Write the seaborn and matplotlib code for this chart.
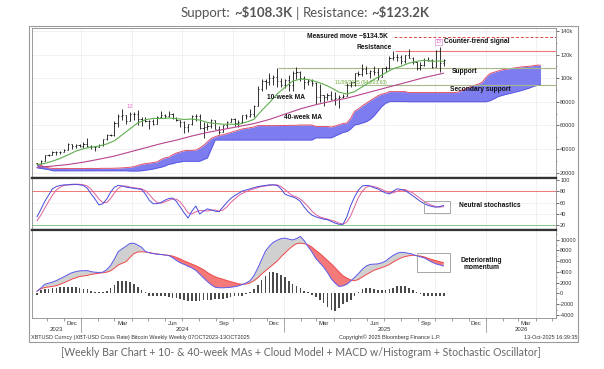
import numpy as np
import pandas as pd
import matplotlib
matplotlib.use("Agg")
import matplotlib.pyplot as plt
import matplotlib.dates as mdates
from matplotlib.patches import Rectangle
from matplotlib.lines import Line2D
import seaborn as sns

# ---------------- data (prices in $ thousands, weekly bars) ----------------
first_week = "2023-10-13"

bar_open = [27.9, 26.9, 29.9, 34.5, 35.0, 37.1, 37.4, 37.8, 39.5, 43.8, 42.3, 43.7,
            42.1, 43.9, 42.8, 41.6, 42.0, 43.0, 48.3, 52.1, 51.7, 62.0, 68.3, 68.4, 64.0,
            69.7, 69.4, 65.7, 64.9, 63.4, 63.9, 61.5, 66.9, 68.5, 67.8, 69.6, 66.6, 64.3,
            62.7, 58.2, 60.8, 68.2, 68.2, 58.1, 58.7, 59.5, 64.2, 57.3, 54.8, 60.0, 63.2,
            65.8, 62.1, 62.8, 68.4, 68.3, 69.4, 76.5, 90.6, 98.0, 96.4, 99.9, 101.4, 97.3,
            94.2, 98.1, 94.5, 104.5, 104.8, 100.4, 96.5, 97.6, 96.1, 84.4, 86.1, 84.0,
            86.1, 82.4, 83.5, 83.8, 85.1, 94.6, 96.5, 104.1, 103.3, 107.8, 104.6, 105.7,
            105.5, 101.0, 108.4, 108.2, 117.5, 117.9, 117.6, 114.2, 119.3, 117.4, 113.5,
            108.2, 111.1, 115.3, 115.7, 109.6, 122.9, 112.5]
bar_high = [28.0, 30.4, 35.2, 35.9, 37.9, 37.9, 38.4, 40.2, 44.7, 44.0, 44.3, 43.8,
            45.9, 49.0, 43.2, 42.8, 43.9, 48.6, 52.9, 52.9, 64.0, 69.3, 73.8, 68.9, 71.7,
            71.3, 72.8, 66.9, 67.1, 64.7, 65.5, 67.7, 71.9, 70.0, 71.9, 70.2, 66.9, 64.5,
            63.8, 61.5, 68.5, 69.4, 70.0, 62.7, 61.6, 65.0, 64.9, 59.8, 60.6, 64.1, 66.5,
            66.0, 64.4, 69.0, 69.5, 73.6, 77.2, 93.5, 99.6, 98.9, 104.1, 102.5, 108.3, 99.9,
            98.9, 102.7, 106.0, 109.6, 106.4, 101.5, 98.9, 99.5, 96.5, 95.0, 86.1, 87.4,
            88.8, 88.5, 85.8, 86.4, 95.7, 97.9, 104.3, 105.8, 111.9, 110.7, 106.8, 110.4,
            108.9, 108.5, 110.5, 118.9, 123.2, 120.2, 119.8, 119.3, 124.5, 117.6, 113.6,
            113.4, 116.7, 117.9, 115.9, 123.9, 126.2, 115.9]
bar_low = [26.6, 26.9, 29.9, 33.9, 34.5, 34.8, 35.7, 37.2, 39.5, 40.2, 40.5, 41.5,
           40.8, 41.5, 40.3, 38.5, 41.8, 42.3, 47.7, 50.6, 50.9, 59.0, 64.5, 60.8, 64.0,
           64.5, 60.7, 59.6, 62.8, 56.5, 60.2, 60.8, 66.3, 66.6, 67.5, 65.1, 63.4, 58.4,
           53.5, 54.3, 60.0, 63.4, 57.1, 49.1, 56.1, 58.0, 57.2, 52.6, 54.6, 57.6, 62.7,
           59.8, 58.9, 62.0, 65.0, 67.5, 66.8, 76.5, 89.4, 90.8, 94.0, 94.3, 92.2, 92.5,
           91.3, 89.3, 89.3, 99.5, 97.8, 91.2, 94.1, 93.4, 78.2, 80.1, 76.6, 81.2,
           81.6, 77.1, 74.5, 83.1, 85.1, 92.9, 93.4, 101.5, 102.1, 103.1, 100.4, 102.7,
           98.2, 100.8, 105.2, 107.5, 115.7, 114.7, 112.0, 112.7, 116.8, 111.7, 107.3,
           107.3, 110.6, 114.5, 108.7, 109.3, 104.8, 110.0]
bar_close = [26.9, 29.9, 34.5, 35.0, 37.1, 37.4, 37.8, 39.5, 43.8, 42.3, 43.7, 42.1,
             43.9, 42.8, 41.6, 42.0, 43.0, 48.3, 52.1, 51.7, 62.0, 68.3, 68.4, 64.0, 69.7,
             69.4, 65.7, 64.9, 63.4, 63.9, 61.5, 66.9, 68.5, 67.8, 69.6, 66.6, 64.3, 62.7,
             58.2, 60.8, 68.2, 68.2, 58.1, 58.7, 59.5, 64.2, 57.3, 54.8, 60.0, 63.2, 65.8,
             62.1, 62.8, 68.4, 68.3, 69.4, 76.5, 90.6, 98.0, 96.4, 99.9, 101.4, 97.3, 94.2,
             98.1, 94.5, 104.5, 104.8, 100.4, 96.5, 97.6, 96.1, 84.4, 86.1, 84.0, 86.1,
             82.4, 83.5, 83.8, 85.1, 94.6, 96.5, 104.1, 103.3, 107.8, 104.6, 105.7, 105.5,
             101.0, 108.4, 108.2, 117.5, 117.9, 117.6, 114.2, 119.3, 117.4, 113.5, 108.2,
             111.1, 115.3, 115.7, 109.6, 122.9, 112.5, 115.0]

# 10-week and 40-week moving averages (week number -> value, $k)
ma10_week = [0, 2, 4, 6, 8, 10, 12, 14, 16, 18, 20, 22, 24, 26, 28, 30, 32, 34, 36, 38,
             40, 42, 44, 46, 48, 50, 52, 54, 56, 58, 60, 62, 64, 66, 68, 70, 72, 74, 76,
             78, 80, 82, 84, 86, 88, 90, 92, 94, 96, 98, 100, 102, 104, 105]
ma10 = [26.8, 27.7, 29.7, 32.0, 35.0, 38.1, 40.3, 41.5, 42.5, 44.2, 47.0, 52.0, 57.0,
        62.0, 64.8, 65.9, 65.8, 66.2, 65.7, 65.0, 65.4, 64.5, 62.5, 61.6, 61.0, 61.0,
        60.8, 62.7, 65.1, 72.5, 79.2, 86.6, 92.2, 97.5, 99.2, 98.9, 97.1, 94.9, 91.8,
        88.1, 86.6, 88.6, 92.7, 96.9, 100.8, 104.5, 108.0, 110.1, 112.7, 114.2, 115.2,
        114.2, 114.6, 114.1]
ma40_week = [0, 4, 8, 12, 16, 20, 24, 28, 32, 36, 40, 44, 48, 52, 56, 60, 64, 68, 72,
             76, 80, 84, 88, 92, 96, 100, 104, 105]
ma40 = [24.5, 25.5, 26.8, 28.8, 31.3, 34.0, 37.5, 41.0, 44.5, 47.5, 51.0, 54.0, 56.5,
        59.0, 61.5, 65.0, 69.5, 74.0, 77.5, 80.5, 83.0, 86.5, 90.0, 93.5, 97.0, 100.5,
        103.5, 104.2]

# cloud model (weekly, projected ahead), $k
cloud_top = [27.5, 26.0, 25.0, 24.0,
             23.5, 23.5, 23.5, 23.5, 23.4, 23.4, 23.4, 23.4, 23.4, 23.5, 23.5, 23.5, 23.5,
             23.6, 23.6, 23.6, 23.7, 23.8, 24.0, 24.2,
             24.5, 25.0, 26.0, 27.0, 27.5, 28.0, 28.5, 29.0, 31.0, 32.4, 33.0, 35.0, 36.6,
             37.5, 38.5, 38.8, 38.8, 39.0, 40.8, 43.0, 46.0, 49.0,
             50.4, 51.5, 52.0, 53.0, 54.0, 55.0, 56.0, 57.0, 57.5, 58.0, 58.6,
             59.8, 59.8, 59.8, 59.8, 59.8, 59.8, 59.9, 59.9, 60.0, 60.0, 60.1,
             60.3, 60.3, 60.3, 60.3, 59.0, 59.0, 59.0, 59.0,
             58.6, 59.5, 60.5, 61.6, 62.0, 66.0, 72.0, 74.0, 76.5, 78.7, 81.0, 83.0, 85.0,
             86.5, 87.2,
             88.6, 88.6, 88.6, 88.6, 88.6,
             87.8, 87.8, 87.8, 87.8, 87.8, 87.8, 87.8, 87.8, 87.8, 87.8, 87.8, 87.8, 87.8,
             88.5, 90.0, 91.5, 93.0, 94.0, 95.0, 96.8, 101.0, 104.0, 105.0, 106.0, 107.0,
             107.5, 108.0, 108.5, 109.0, 109.5, 109.8, 110.0, 110.5, 111.0, 111.0]
cloud_bottom = [24.0, 23.5, 23.0, 22.5,
                21.5, 21.5, 21.5, 21.5, 21.5, 21.5, 21.5, 21.5, 21.5, 21.5, 21.5, 21.5,
                21.5, 21.5, 21.5, 21.5, 21.5, 21.5, 21.5, 21.5,
                21.3, 21.3, 21.3, 21.5, 22.0, 22.5, 23.0, 23.8, 24.5, 25.5, 27.0, 27.5,
                28.5, 29.0, 29.6, 29.6, 29.6, 29.6, 29.6, 31.0, 32.4, 40.0,
                47.6, 47.6, 47.6, 47.6, 47.6, 47.6, 47.6, 47.6, 47.6, 47.6, 47.6,
                47.6, 47.6, 47.6, 47.6, 47.6, 47.6, 47.6, 47.6, 47.6, 47.6, 47.6,
                47.6, 47.6, 47.6, 47.6, 49.4, 49.4, 49.4, 49.4,
                49.4, 51.0, 52.5, 54.0, 54.7, 57.0, 60.3, 61.0, 62.0, 63.1, 65.0, 68.0,
                72.0, 76.0, 78.7,
                80.1, 80.1, 80.1, 80.1, 80.1,
                80.0, 80.0, 80.0, 80.0, 80.0, 80.0, 80.0, 80.0, 80.0, 80.0, 80.0, 80.0, 80.0,
                80.0, 80.0, 80.0, 80.0, 80.0, 80.0, 80.0, 80.0, 81.0, 82.5, 84.3, 85.3,
                86.2, 87.0, 87.8, 88.6, 89.5, 90.5, 91.5, 92.8, 93.8, 94.8]

# stochastic oscillator (weekly)
stoch_k = [35, 48, 62, 73, 84, 88, 90, 91, 91, 92, 92, 91, 90, 85, 75, 66, 56, 58, 66, 78,
           87, 90, 89, 87, 86, 85, 84, 83, 75, 64, 58, 58, 60, 64, 67, 68, 62, 52, 42, 33,
           45, 54, 40, 45, 49, 47, 45, 44, 52, 60, 67, 72, 76, 80, 82, 84, 86, 88, 89, 90,
           91, 91, 90, 84, 75, 72, 70, 67, 62, 52, 44, 38, 35, 33, 31, 30, 27, 24, 22, 22,
           35, 55, 70, 82, 89, 90, 89, 86, 84, 80, 77, 75, 80, 84, 83, 81, 77, 72, 67, 62,
           58, 55, 53, 52, 53, 55]
stoch_d = [28, 38, 50, 62, 73, 82, 87, 90, 91, 91, 92, 92, 91, 89, 83, 75, 66, 60, 60, 67,
           77, 85, 89, 89, 87, 86, 85, 84, 81, 74, 66, 60, 59, 61, 64, 66, 66, 61, 52, 42,
           40, 44, 46, 46, 45, 47, 47, 45, 47, 52, 60, 66, 72, 76, 79, 82, 84, 86, 88, 89,
           90, 91, 91, 88, 83, 77, 72, 70, 66, 60, 53, 45, 39, 35, 33, 31, 29, 27, 24, 22,
           26, 37, 53, 69, 80, 87, 89, 88, 86, 83, 80, 77, 77, 80, 82, 83, 80, 77, 72, 67,
           62, 58, 55, 53, 52, 53]

# MACD (weekly)
macd_line = [400, 1000, 1700, 1900, 2100, 2400, 2750, 3100, 3500, 3850,
             4050, 4200, 4230, 4250, 4050, 3950, 3900, 3950, 4400, 5200,
             6400, 7800, 8300, 8800, 9300, 9350, 9000, 8600, 7800, 7550,
             7400, 7300, 7250, 7150, 7050, 6650, 6150, 5700, 5400, 5050,
             4750, 4300, 3600, 2900, 2200, 1600, 1150, 1050, 1050, 1080,
             1150, 1250, 1400, 1650, 1950, 2350, 3300, 4700, 6300, 7900,
             8800, 9500, 9900, 10200, 10300, 10100, 9950, 10200, 10600, 9800,
             8700, 7700, 6500, 5700, 4900, 3900, 2700, 1900, 1300, 1400,
             1700, 2300, 3000, 3700, 4500, 5100, 5400, 5450, 5500, 5700,
             6000, 6600, 7100, 7500, 7650, 7600, 7450, 7300, 7000, 6800,
             6600, 6200, 5800, 5500, 5300, 5100]
macd_signal = [400, 850, 1100, 1200, 1300, 1450, 1700, 2000, 2300, 2650,
               2900, 3150, 3250, 3350, 3550, 3650, 3750, 3850, 3950, 4200,
               4700, 5300, 5600, 5900, 6700, 7400, 7700, 7750, 7700, 7600,
               7450, 7350, 7250, 7150, 7100, 6950, 6700, 6400, 6050, 5750,
               5450, 5150, 4800, 4400, 3900, 3450, 3100, 2850, 2650, 2400,
               2200, 2000, 1800, 1700, 1750, 1950, 2350, 2900, 3600, 4200,
               4800, 5400, 6000, 6800, 7500, 8200, 8800, 9250, 9350, 9250,
               9050, 8600, 8000, 7450, 6800, 6150, 5500, 4750, 4000, 3300,
               2850, 2500, 2350, 2600, 3050, 3500, 3900, 4300, 4550, 4800,
               5050, 5400, 5850, 6250, 6600, 6850, 7000, 7100, 7050, 6950,
               6800, 6500, 6300, 6100, 5900, 5700]
macd_hist = [-200, 700, 800, 900, 1000, 1100, 1150, 1200, 1250, 1200, 1150, 1000, 900, 800,
             500, 300, 250, 300, 450, 1000, 1600, 2300, 2400, 2400, 2200, 1800, 1200, 700,
             250, -400, -500, -500, -500, -550, -600, -800, -850, -1000, -1300, -1450,
             -1500, -1500, -1400, -1300, -1250, -1200, -1100, -1000, -950, -800, -600, -550,
             -500, -400, -100, 300, 900, 1500, 2500, 3300, 3900, 3900, 3800, 3400, 3000,
             2300, 1700, 1400, 1100, 500, 300, -200, -600, -1300, -1800, -2500, -3100,
             -3300, -2800, -2000, -1600, -1200, -500, 200, 800, 1100, 1100, 800, 600, 600,
             600, 900, 1000, 1300, 1400, 1300, 1000, 700, 200, -100, -400, -450, -500, -500,
             -550, -500]

# key levels ($k)
measured_move = 134.5
resistance = 123.2
support = 108.3
secondary_support = 94.2

price_ticks = [20, 40, 60, 80, 100, 120, 140]
price_labels = ["20000", "40000", "60000", "80000", "100k", "120k", "140k"]
stoch_ticks = [20, 40, 60, 80, 100]
macd_ticks = [-4000, -2000, 0, 2000, 4000, 6000, 8000, 10000]
month_tick_dates = ["2023-12-15", "2024-03-15", "2024-06-15", "2024-09-15", "2024-12-15",
                    "2025-03-15", "2025-06-15", "2025-09-15", "2025-12-15", "2026-03-15"]
month_tick_labels = ["Dec", "Mar", "Jun", "Sep", "Dec", "Mar", "Jun", "Sep", "Dec", "Mar"]
years = ["2023", "2024", "2025", "2026"]

# ---------------- figure setup ----------------
sns.set_theme(style="white")
plt.rcParams["font.family"] = ["Liberation Sans", "DejaVu Sans"]
plt.rcParams["axes.linewidth"] = 0.6

W, H, DPI = 604, 369, 100
fig = plt.figure(figsize=(W / DPI, H / DPI), dpi=DPI)
fig.patch.set_facecolor("white")

XMIN = pd.Timestamp("2023-10-04")
XMAX = pd.Timestamp("2026-05-08")
X0, X1 = 32, 556


def px_axes(x0, y0, x1, y1):
    return fig.add_axes([x0 / W, 1 - y1 / H, (x1 - x0) / W, (y1 - y0) / H])


def fx(px):
    return px / W


def fy(py):
    return 1 - py / H


def date_px(d):
    d = pd.Timestamp(d)
    return X0 + (d - XMIN).days * (X1 - X0) / (XMAX - XMIN).days


def dn(d):
    return mdates.date2num(pd.Timestamp(d))


ax1 = px_axes(32, 28, 556, 178)
ax2 = px_axes(32, 178, 556, 230)
ax3 = px_axes(32, 230, 556, 318)

# outer Bloomberg frame
fig.add_artist(Rectangle((fx(29), fy(342)), (578 - 29) / W, (342 - 26) / H,
                         transform=fig.transFigure, fill=False, ec="#9a9a9a", lw=0.8))

bar_dates = pd.date_range(first_week, periods=len(bar_close), freq="7D")
bd = mdates.date2num(bar_dates)
cloud_dates = pd.date_range(first_week, periods=len(cloud_top), freq="7D")
cd = mdates.date2num(cloud_dates)

grid_dates = [dn(d) for d in ["2024-01-01", "2024-04-01", "2024-07-01", "2024-10-01",
                              "2025-01-01", "2025-04-01", "2025-07-01", "2025-10-01",
                              "2026-01-01", "2026-04-01"]]

for ax in (ax1, ax2, ax3):
    ax.set_facecolor("white")
    ax.set_xlim(dn(XMIN), dn(XMAX))
    for g in grid_dates:
        ax.axvline(g, color="#ebebeb", lw=0.5, zorder=0)
    ax.yaxis.tick_right()
    ax.tick_params(axis="y", which="major", labelsize=4, length=2, width=0.5, pad=1,
                   colors="#333333", direction="out", right=True, left=False)
    ax.tick_params(axis="y", which="minor", length=1, width=0.4, colors="#333333",
                   right=True, left=False)
    for s in ax.spines.values():
        s.set_color("#8a8a8a")
        s.set_linewidth(0.6)

# ---------------- main panel ----------------
for p in price_ticks:
    ax1.axhline(p, color="#ebebeb", lw=0.5, zorder=0)

ax1.fill_between(cd, cloud_bottom, cloud_top, color="#7d7df0", lw=0, zorder=2)
sns.lineplot(x=cloud_dates, y=cloud_top, ax=ax1, color="#e0506a", lw=0.7,
             estimator=None, legend=False, zorder=3)
sns.lineplot(x=cloud_dates, y=cloud_bottom, ax=ax1, color="#5050e0", lw=0.5,
             estimator=None, legend=False, zorder=3)

tick_len = 2.0
ax1.vlines(bd, bar_low, bar_high, color="#111111", lw=0.6, zorder=5)
ax1.hlines(bar_open, bd - tick_len, bd, color="#111111", lw=0.6, zorder=5)
ax1.hlines(bar_close, bd, bd + tick_len, color="#111111", lw=0.6, zorder=5)

sns.lineplot(x=bar_dates[ma10_week], y=ma10, ax=ax1, color="#5fae4f", lw=0.8,
             estimator=None, legend=False, zorder=6)
sns.lineplot(x=bar_dates[ma40_week], y=ma40, ax=ax1, color="#b8448e", lw=0.8,
             estimator=None, legend=False, zorder=6)

xr = dn(XMAX)
ax1.hlines(measured_move, dn("2025-07-19"), xr, colors="#e04848", linestyles=(0, (3, 2)),
           lw=0.7, zorder=4)
ax1.hlines(resistance, dn("2025-07-21"), xr, colors="#f07878", lw=0.8, zorder=4)
ax1.hlines(support, dn("2024-12-21"), xr, colors="#a6b88a", lw=0.8, zorder=4)
ax1.hlines(secondary_support, dn("2025-04-20"), xr, colors="#a6b88a", lw=0.8, zorder=4)

ann = dict(fontsize=4.8, fontweight="bold", color="#111111", zorder=8)
ax1.text(dn("2025-02-12"), 135.3, "Measured move ~\\$134.5K", ha="left", va="center", **ann)
ax1.text(dn("2025-07-16"), 125.6, "Resistance", ha="right", va="center", **ann)
ax1.text(dn("2025-11-24"), 105.3, "Support", ha="center", va="center", **ann)
ax1.text(dn("2025-12-22"), 90.8, "Secondary support", ha="center", va="center", **ann)
ax1.text(dn("2025-10-18"), 131.0, "Counter-trend signal", ha="left", va="center", **ann)
ax1.text(dn("2025-01-05"), 84.0, "10-week MA", ha="center", va="center", **ann)
ax1.text(dn("2025-02-05"), 66.3, "40-week MA", ha="center", va="center", **ann)
ax1.text(dn("2025-10-08"), 130.7, "13", ha="center", va="center", fontsize=3.8,
         color="#e060c8", zorder=9,
         bbox=dict(boxstyle="square,pad=0.15", fc="white", ec="#e090d8", lw=0.5))
ax1.text(dn("2024-03-29"), 75.6, "12", ha="center", va="center", fontsize=4.2,
         color="#f070d0", zorder=9)
ax1.text(dn("2025-05-20"), 96.3, "11/09/2025 (94,203.63)", ha="center", va="center",
         fontsize=3.6, color="#6aaa3a", zorder=9)

ax1.set_ylim(15.4, 142.5)
ax1.set_yticks(price_ticks)
ax1.set_yticklabels(price_labels)
ax1.set_yticks([30, 50, 70, 90, 110, 130], minor=True)
ax1.set_xticks([])
ax1.set_xlabel("")
ax1.set_ylabel("")
ax1.spines["bottom"].set_color("#333333")
ax1.spines["bottom"].set_linewidth(1.6)

# ---------------- stochastic panel ----------------
for v in (40, 60):
    ax2.axhline(v, color="#ededed", lw=0.5, zorder=0)
ax2.axhline(80, color="#f07878", lw=0.7, zorder=1)
ax2.axhline(20, color="#88c888", lw=0.7, zorder=1)
sns.lineplot(x=bar_dates, y=stoch_d, ax=ax2, color="#e0609a", lw=0.7,
             estimator=None, legend=False, zorder=3)
sns.lineplot(x=bar_dates, y=stoch_k, ax=ax2, color="#4848dc", lw=0.7,
             estimator=None, legend=False, zorder=4)
ax2.add_patch(Rectangle((dn("2025-09-12"), 41.8), dn("2025-10-29") - dn("2025-09-12"), 20.2,
                        fill=False, ec="#9a9a9a", lw=0.6, zorder=5))
ax2.text(dn("2026-01-09"), 54.8, "Neutral stochastics", ha="center", va="center", **ann)
ax2.set_ylim(12, 103)
ax2.set_yticks(stoch_ticks)
ax2.set_yticklabels([str(t) for t in stoch_ticks])
ax2.set_xticks([])
ax2.set_xlabel("")
ax2.set_ylabel("")
for s in ("top", "bottom"):
    ax2.spines[s].set_color("#333333")
    ax2.spines[s].set_linewidth(1.6)

# ---------------- MACD panel ----------------
ml = np.array(macd_line, dtype=float)
sl = np.array(macd_signal, dtype=float)
ax3.fill_between(bd, ml, sl, where=ml >= sl, interpolate=True, color="#d0d0d0", lw=0,
                 zorder=2)
ax3.fill_between(bd, ml, sl, where=ml < sl, interpolate=True, color="#f47a7a", lw=0,
                 zorder=2)
ax3.bar(bd, macd_hist, width=3.0, color="#4a4a4a", lw=0, zorder=3)
sns.lineplot(x=bar_dates, y=macd_signal, ax=ax3, color="#f04848", lw=0.7,
             estimator=None, legend=False, zorder=4)
sns.lineplot(x=bar_dates, y=macd_line, ax=ax3, color="#5a5af0", lw=0.7,
             estimator=None, legend=False, zorder=5)
ax3.add_patch(Rectangle((dn("2025-08-29"), 4000), dn("2025-10-29") - dn("2025-08-29"), 3430,
                        fill=False, ec="#9a9a9a", lw=0.6, zorder=6))
ax3.text(dn("2025-12-24"), 6100, "Deteriorating", ha="center", va="center", **ann)
ax3.text(dn("2025-12-24"), 4760, "momentum", ha="center", va="center", **ann)
ax3.set_ylim(-4570, 11800)
ax3.set_yticks(macd_ticks)
ax3.set_yticklabels([str(t) for t in macd_ticks])
ax3.set_yticks([-3000, -1000, 1000, 3000, 5000, 7000, 9000, 11000], minor=True)
ax3.set_xticks([dn(d) for d in month_tick_dates])
ax3.set_xticklabels(month_tick_labels)
ax3.xaxis.set_minor_locator(mdates.MonthLocator())
ax3.tick_params(axis="x", which="major", labelsize=4.3, length=0, pad=2.5, colors="#333333",
                bottom=True)
ax3.tick_params(axis="x", which="minor", length=1.8, width=0.4, colors="#555555",
                bottom=True)
ax3.set_xlabel("")
ax3.set_ylabel("")
ax3.spines["top"].set_color("#333333")
ax3.spines["top"].set_linewidth(1.6)
ax3.set_xlim(dn(XMIN), dn(XMAX))

# year labels and separators
year_bounds = [XMIN, pd.Timestamp("2024-01-01"), pd.Timestamp("2025-01-01"),
               pd.Timestamp("2026-01-01"), XMAX]
for k, y in enumerate(years):
    cx = (date_px(year_bounds[k]) + date_px(year_bounds[k + 1])) / 2
    fig.text(fx(cx), fy(329.5), y, ha="center", va="center", fontsize=4.3, color="#333333")
for b in year_bounds[1:4]:
    xp = date_px(b)
    fig.add_artist(Line2D([fx(xp), fx(xp)], [fy(319), fy(332)], transform=fig.transFigure,
                          color="#9a9a9a", lw=0.6))

# footer
foot = dict(fontsize=4.0, color="#333333", va="center")
fig.text(fx(31), fy(337.5), "XBTUSD Curncy (XBT-USD Cross Rate) Bitcoin Weekly Weekly 07OCT2023-13OCT2025",
         ha="left", **foot)
fig.text(fx(390), fy(337.5), "Copyright\u00a9 2025 Bloomberg Finance L.P.", ha="center", **foot)
fig.text(fx(577), fy(337.5), "13-Oct-2025 16:39:35", ha="right", **foot)


# ---------------- title and caption ----------------
def rich_line(parts, cx, cy, size, color, family):
    r = fig.canvas.get_renderer()
    probe1 = fig.text(0, 0, "x x", fontsize=size, family=family)
    probe2 = fig.text(0, 0, "xx", fontsize=size, family=family)
    gap = probe1.get_window_extent(r).width - probe2.get_window_extent(r).width
    probe1.remove()
    probe2.remove()
    objs = []
    for s, wt in parts:
        objs.append(fig.text(0, fy(cy), s, fontsize=size, fontweight=wt, color=color,
                             family=family, va="center", ha="left"))
    widths = [t.get_window_extent(r).width for t in objs]
    total = sum(widths) + gap * (len(objs) - 1)
    x = cx - total / 2
    for t, w in zip(objs, widths):
        t.set_x(fx(x))
        x += w + gap


title_font = ["Lato", "DejaVu Sans"]
rich_line([("Support:", "normal"), ("~\\$108.3K", "bold"), ("|", "normal"),
           ("Resistance:", "normal"), ("~\\$123.2K", "bold")],
          305, 13, 9.5, "#555555", title_font)
fig.text(fx(301), fy(352),
         "[Weekly Bar Chart + 10- & 40-week MAs + Cloud Model + MACD w/Histogram + Stochastic Oscillator]",
         ha="center", va="center", fontsize=7.6, color="#666666", family=title_font)

fig.savefig("out.png", dpi=DPI)
